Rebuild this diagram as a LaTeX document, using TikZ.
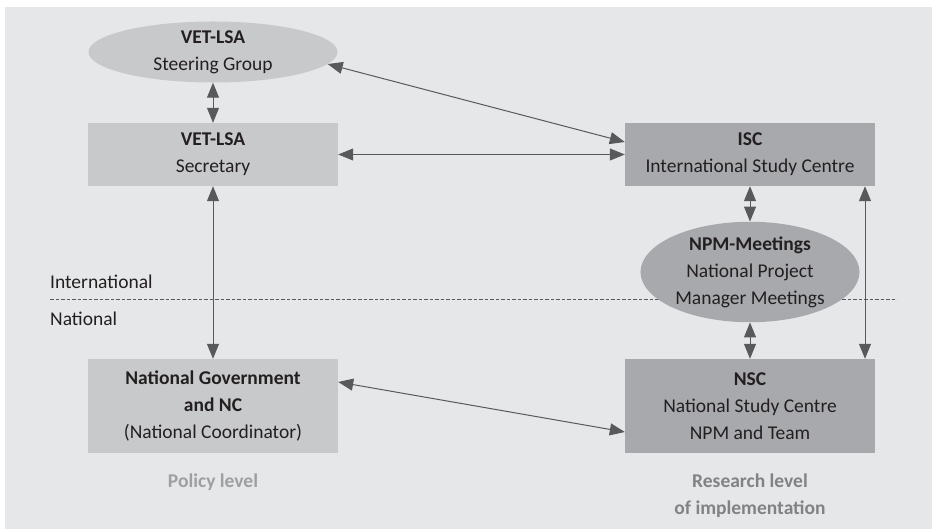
\documentclass[tikz,border=0pt]{standalone}
\usepackage{fontspec}
\setmainfont{Carlito}
\usepackage{tikz}
\usetikzlibrary{
    arrows.meta,
    positioning,
    shapes.geometric
}
\definecolor{bgGrey}{HTML}{E6E7E8}
\definecolor{boxLight}{HTML}{C8C9CB}
\definecolor{boxDark}{HTML}{A7A9AC}
\definecolor{lineGrey}{HTML}{58595B}
\definecolor{txtDark}{HTML}{231F20}
\definecolor{lvlLight}{HTML}{9D9FA2}
\definecolor{lvlDark}{HTML}{808285}
\newcommand{\diagfont}{\fontsize{19.5}{27}\selectfont}
\tikzset{
  unit/.style    = {rectangle, inner sep=0pt, minimum width=250pt,
                    align=center, font=\diagfont, text=txtDark},
  oval/.style    = {ellipse, inner sep=0pt, align=center,
                    font=\diagfont, text=txtDark},
  link/.style    = {{Triangle[length=15pt,width=12pt]}-{Triangle[length=15pt,width=12pt]},
                    line width=1pt, lineGrey}
}

\begin{document}
\begin{tikzpicture}[
  x=1pt, y=-1pt,
  lvl/.style={font=\diagfont\bfseries, align=center},
  side/.style={font=\diagfont, text=txtDark, anchor=west, inner sep=0pt}
]

%% Frame
\useasboundingbox (0,0) rectangle (941,529);
\fill[bgGrey] (5,7) rectangle (932,529);

%% International / national border
\draw[lineGrey, line width=0.9pt, dash pattern=on 3.5pt off 2pt] (50,299) -- (897,299);
\node[side] (intl) at (50,282) {International};
\node[side] (natl) at (50,319) {National};

%% Policy side (left)
\node[oval, fill=boxLight, minimum width=249pt, minimum height=61pt]
  (steer) at (213,52) {\textbf{VET-LSA}\\Steering Group};
\node[unit, fill=boxLight, minimum height=63pt]
  (secr) at (213,154.5) {\textbf{VET-LSA}\\Secretary};
\node[unit, fill=boxLight, minimum height=94pt]
  (natgov) at (213,406) {\textbf{National Government}\\\textbf{and NC}\\(National Coordinator)};

%% Research side (right)
\node[unit, fill=boxDark, minimum height=63pt]
  (isc) at (750,154.5) {\textbf{ISC}\\International Study Centre};
\node[oval, fill=boxDark, minimum width=219pt, minimum height=93pt]
  (npm) at (750,272) {\textbf{NPM-Meetings}\\National Project\\Manager Meetings};
\node[unit, fill=boxDark, minimum height=94pt]
  (nsc) at (750,406) {\textbf{NSC}\\National Study Centre\\NPM and Team};

%% Level labels
\node[lvl, text=lvlLight] (policy) at (213,482) {Policy level};
\node[lvl, text=lvlDark, below=1pt of nsc.south, yshift=-16pt]
  (research) {Research level\\of implementation};

%% Connections
\draw[link] (steer) -- (secr);
\draw[link] (steer.-6) -- ([yshift=12.5pt]isc.west);
\draw[link] (secr.east) -- (isc.west);
\draw[link] (secr) -- (natgov);
\draw[link] (isc) -- (npm);
\draw[link] (npm) -- (nsc);
\draw[link] ([xshift=115pt]isc.south) -- ([xshift=115pt]nsc.north);
\draw[link] ([yshift=24pt]natgov.east) -- ([yshift=-26pt]nsc.west);

\end{tikzpicture}
\end{document}
